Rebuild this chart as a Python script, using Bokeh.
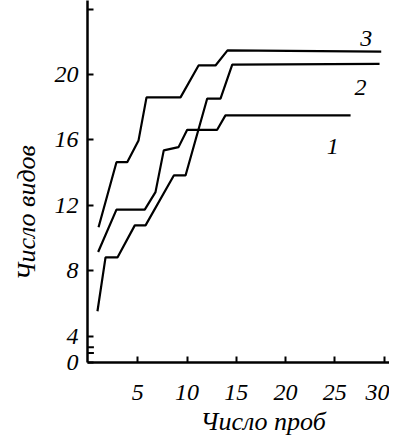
from bokeh.plotting import figure
from bokeh.models import Range1d, FixedTicker, Label, Title
from bokeh.embed import file_html
from bokeh.resources import INLINE

# Curve 1
x1 = [0.98, 2.84, 5.71, 6.8, 7.64, 9.14, 10.02, 13.06, 13.9, 26.6]
y1 = [9.15, 11.74, 11.74, 12.81, 15.36, 15.56, 16.62, 16.62, 17.5, 17.5]
# Curve 2
x2 = [0.91, 1.73, 2.94, 4.7, 5.79, 8.66, 9.85, 12.05, 13.4, 14.59, 29.54]
y2 = [5.53, 8.82, 8.82, 10.78, 10.78, 13.83, 13.83, 18.53, 18.53, 20.6, 20.65]
# Curve 3
x3 = [1.02, 2.84, 3.93, 5.08, 5.89, 9.34, 11.17, 12.89, 14.11, 29.71]
y3 = [10.66, 14.64, 14.64, 15.97, 18.6, 18.6, 20.55, 20.55, 21.47, 21.4]

curve_labels = ["1", "2", "3"]
label_x = [24.8, 27.6, 28.2]
label_y = [15.6, 19.2, 22.2]

x_ticks = [5, 10, 15, 20, 25, 30]
y_ticks = [2.4, 4, 8, 12, 16, 20, 24]
y_tick_labels = {2.4: "0", 24: ""}

x_title = "Число проб"
y_title = "Число видов"

FONT = "Liberation Serif"

p = figure(width=389, height=439, output_backend="svg", toolbar_location=None,
           x_range=Range1d(-0.1, 30.55), y_range=Range1d(2.4, 24.52),
           min_border_left=87, min_border_bottom=77, min_border_top=0, min_border_right=0)
p.grid.visible = False
p.outline_line_color = None
p.background_fill_color = "white"
p.border_fill_color = "white"

for ax in (p.xaxis[0], p.yaxis[0]):
    ax.axis_line_width = 2.5
    ax.axis_line_color = "black"
    ax.major_tick_line_width = 2
    ax.major_tick_in = 6
    ax.major_tick_out = 0
    ax.minor_tick_line_color = None
    ax.major_label_text_font = FONT
    ax.major_label_text_font_style = "italic"
    ax.major_label_text_font_size = "24px"
    ax.major_label_text_color = "black"

p.xaxis[0].ticker = FixedTicker(ticks=x_ticks)
p.yaxis[0].ticker = FixedTicker(ticks=y_ticks)
p.yaxis[0].major_label_overrides = y_tick_labels
p.xaxis[0].major_label_standoff = 22
p.yaxis[0].major_label_standoff = 9

for xs, ys in ((x1, y1), (x2, y2), (x3, y3)):
    p.line(xs, ys, line_color="black", line_width=2.2)

# axis break marks
p.segment(x0=[-0.1, -0.1], y0=[3.33, 2.98], x1=[0.55, 0.55], y1=[3.33, 2.98],
          line_color="black", line_width=2)

for t, lx, ly in zip(curve_labels, label_x, label_y):
    p.add_layout(Label(x=lx, y=ly, text=t, text_font=FONT, text_font_style="italic",
                       text_font_size="24px", text_align="center", text_baseline="middle",
                       text_color="black"))

# axis titles
p.add_layout(Title(text=x_title, align="left", offset=113, standoff=5,
                   text_font=FONT, text_font_style="italic", text_font_size="26px",
                   text_color="black"), "below")
p.add_layout(Title(text=y_title, align="left", offset=82, standoff=18, vertical_align="top",
                   text_font=FONT, text_font_style="italic", text_font_size="26px",
                   text_color="black"), "left")

open("out.html", "w").write(file_html(p, INLINE))
